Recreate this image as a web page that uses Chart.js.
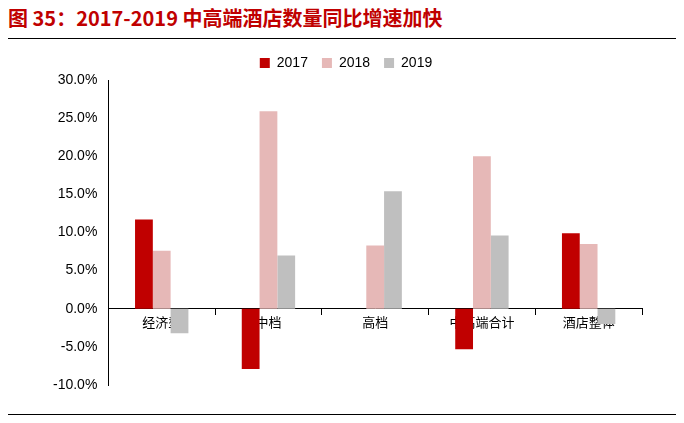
<!DOCTYPE html>
<html><head><meta charset="utf-8">
<script src="https://cdn.jsdelivr.net/npm/chart.js@4"></script>
<style>
body{margin:0;width:684px;height:423px;background:#fff;font-family:"Noto Sans CJK SC",sans-serif;position:relative;overflow:hidden}
#t{position:absolute;left:8px;top:3px;font-size:20px;font-weight:bold;color:#c00000;white-space:nowrap}
#l1{position:absolute;left:8px;right:8px;top:38px;border-top:1px solid #000}
#l2{position:absolute;left:8px;right:8px;top:414px;border-top:1px solid #000}
#w{position:absolute;left:0;top:42px;width:684px;height:364px}
</style></head><body>
<div id="t">图 35：2017-2019 中高端酒店数量同比增速加快</div>
<div id="l1"></div><div id="l2"></div>
<div id="w"><canvas id="c"></canvas></div>
<script>
const categories=["经济型","中档","高档","中高端合计","酒店整体"];
const s2017=[11.7,-7.9,0,-5.3,9.9];
const s2018=[7.6,25.9,8.3,20.0,8.5];
const s2019=[-3.2,7.0,15.4,9.6,-2.0];
new Chart(document.getElementById('c'),{type:'bar',
data:{labels:categories,datasets:[
{label:'2017',data:s2017,backgroundColor:'#c00000'},
{label:'2018',data:s2018,backgroundColor:'#e6b8b7'},
{label:'2019',data:s2019,backgroundColor:'#bfbfbf'}]},
options:{responsive:true,maintainAspectRatio:false,animation:false,
layout:{padding:{left:50,right:42,top:0,bottom:21}},
datasets:{bar:{categoryPercentage:0.5,barPercentage:1}},
plugins:{legend:{labels:{boxWidth:10,boxHeight:10,padding:14,font:{size:14,family:'Arial'},color:'#000'}}},
scales:{
x:{position:{y:0},grid:{display:true,drawOnChartArea:false,drawTicks:true,tickLength:6,color:'#000',offset:true},border:{color:'#000'},ticks:{color:'#000',padding:0,font:{size:13,family:'"Noto Sans CJK SC"'}}},
y:{min:-10,max:30,ticks:{stepSize:5,color:'#000',font:{size:14,family:'Arial'},callback:v=>v.toFixed(1)+'%'},grid:{display:false},border:{color:'#000'}}
}}});
</script></body></html>
